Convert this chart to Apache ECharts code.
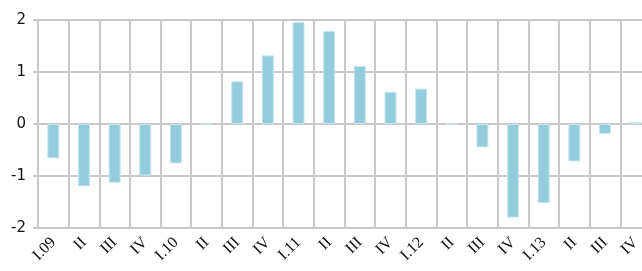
<!DOCTYPE html>
<html>
<head>
<meta charset="utf-8">
<script src="https://cdn.jsdelivr.net/npm/echarts@6/dist/echarts.min.js"></script>
<style>
  html, body { margin: 0; padding: 0; background: #fff; }
  #chart { width: 642px; height: 271px; }
</style>
</head>
<body>
<div id="chart"></div>
<script>
// quarters, 2009 - 2013
const categories = ["I.09", "II", "III", "IV", "I.10", "II", "III", "IV", "I.11", "II",
  "III", "IV", "I.12", "II", "III", "IV", "I.13", "II", "III", "IV"];
const values = [-0.66, -1.20, -1.13, -0.99, -0.76, 0, 0.82, 1.32, 1.96, 1.79,
  1.12, 0.62, 0.68, 0, -0.45, -1.80, -1.52, -0.72, -0.19, 0.04];
const yTicks = { min: -2, max: 2, step: 1 };

const gridColor = "#c8c8c8";
const chart = echarts.init(document.getElementById("chart"));

chart.setOption({
  animation: false,
  grid: {
    left: 38,
    right: -9,
    top: 20,
    bottom: 43,
    outerBoundsMode: "none"
  },
  xAxis: {
    type: "category",
    data: categories,
    axisLine: { onZero: false, lineStyle: { color: gridColor, width: 2 } },
    axisTick: { show: false },
    splitLine: { show: true, interval: 0, lineStyle: { color: gridColor, width: 2 } },
    axisLabel: {
      interval: 0,
      rotate: 45,
      margin: 12,
      color: "#111",
      fontFamily: "Liberation Serif",
      fontSize: 16
    }
  },
  yAxis: {
    type: "value",
    min: yTicks.min,
    max: yTicks.max,
    interval: yTicks.step,
    axisLine: { show: true, lineStyle: { color: gridColor, width: 2 } },
    axisTick: { show: true, length: 5, lineStyle: { color: gridColor, width: 2 } },
    splitLine: { lineStyle: { color: gridColor, width: 2 } },
    axisLabel: {
      margin: 12,
      color: "#111",
      fontFamily: "DejaVu Sans",
      fontSize: 15
    }
  },
  series: [
    {
      type: "bar",
      data: values,
      barWidth: 12,
      itemStyle: { color: "#93cddd", borderColor: "#c9e6ee", borderWidth: 1 }
    }
  ]
});
</script>
</body>
</html>
